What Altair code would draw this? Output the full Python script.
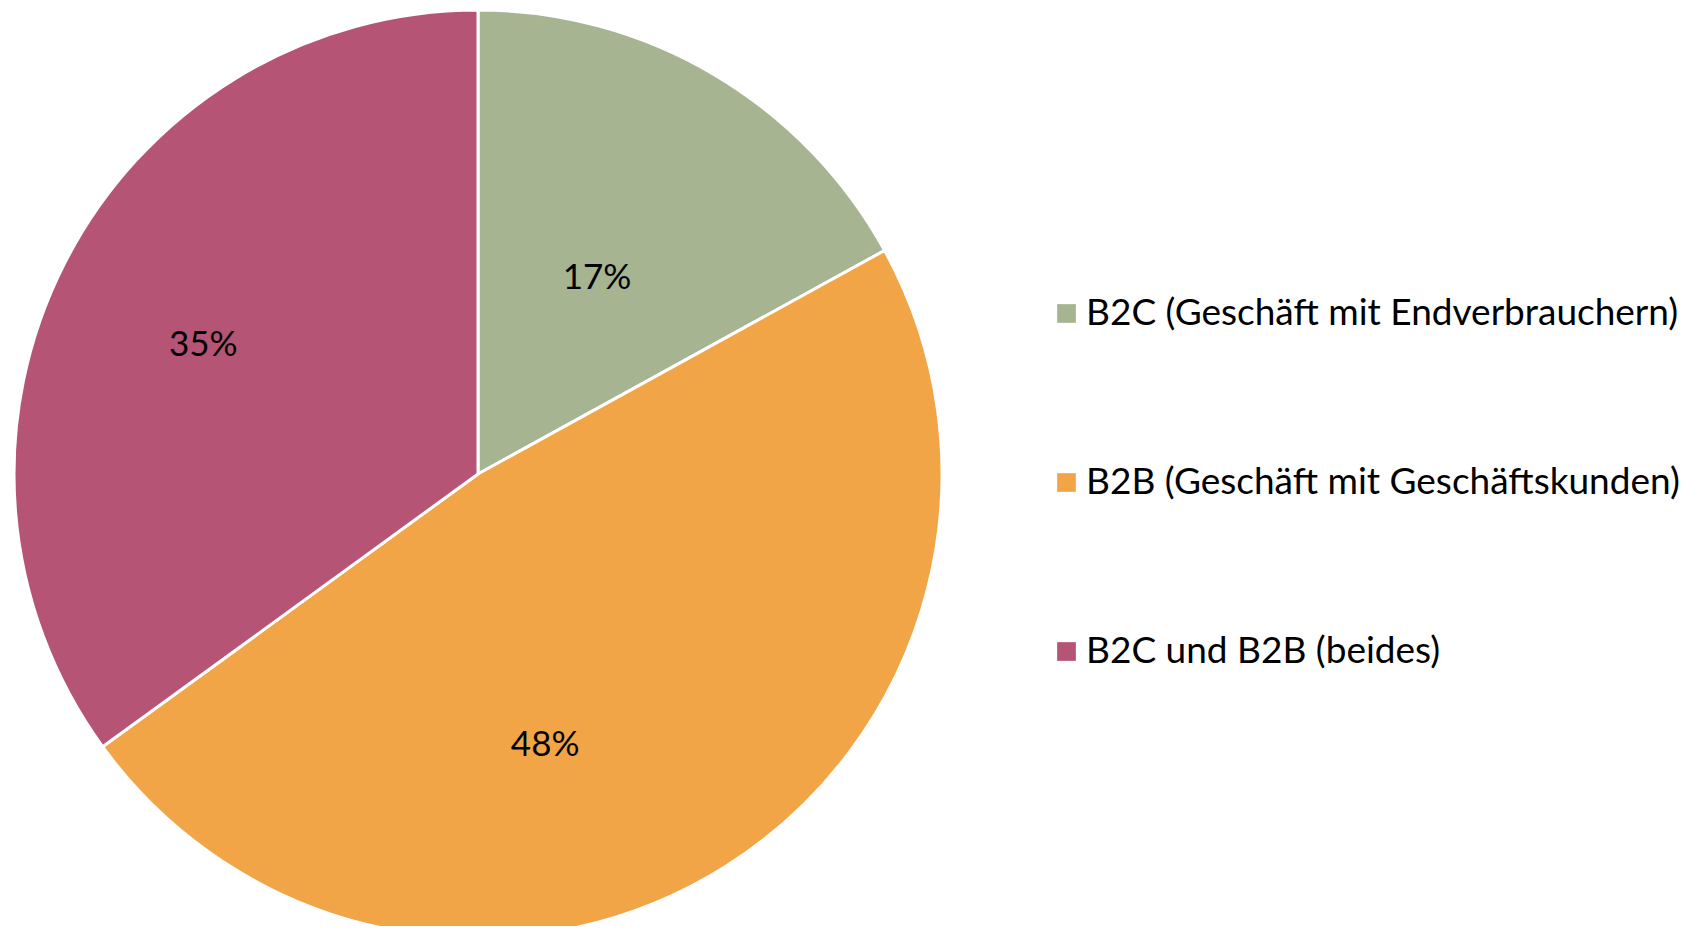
import altair as alt
import pandas as pd

categories = ["B2C (Geschäft mit Endverbrauchern)", "B2B (Geschäft mit Geschäftskunden)", "B2C und B2B (beides)"]
values = [17, 48, 35]
labels = ["17%", "48%", "35%"]
colors = ["#A6B492", "#F2A547", "#B55474"]

df = pd.DataFrame({"cat": categories, "val": values, "lab": labels, "order": [0, 1, 2]})

CX, CY, R = 470, 466, 464
FONT = "Lato"

base = alt.Chart(df).encode(
    theta=alt.Theta("val:Q", stack=True),
    order=alt.Order("order:Q"),
)

arcs = base.mark_arc(radius=R, stroke="white", strokeWidth=3).encode(
    x=alt.value(CX),
    y=alt.value(CY),
    color=alt.Color(
        "cat:N",
        sort=categories,
        scale=alt.Scale(domain=categories, range=colors),
        legend=alt.Legend(
            title=None,
            orient="none",
            legendX=1040,
            legendY=287,
            symbolType="square",
            symbolSize=350,
            symbolStrokeWidth=0,
            labelFont=FONT,
            labelFontSize=37,
            labelColor="black",
            labelOffset=1,
            rowPadding=131,
            labelLimit=900,
        ),
    ),
)

# label placement styles (Excel best-fit positions)
label_styles = {
    "17%": dict(radius=R * 0.5, dx=1, dy=4),
    "48%": dict(radius=R * 0.6, dx=-82, dy=36),
    "35%": dict(radius=R * 0.655, dx=-4, dy=9),
}

text_layers = []
for lab, st in label_styles.items():
    text_layers.append(
        base.mark_text(fontSize=35, font=FONT, color="black", **st)
        .encode(x=alt.value(CX), y=alt.value(CY), text="lab:N",
                opacity=alt.condition(alt.datum.lab == lab, alt.value(1), alt.value(0)))
    )

chart = alt.layer(arcs, *text_layers).properties(
    width=1680, height=918, padding=0, autosize=alt.AutoSizeParams(type="none")
).configure_view(stroke=None)

chart.save("out.html", embed_options={"renderer": "svg", "actions": False})
